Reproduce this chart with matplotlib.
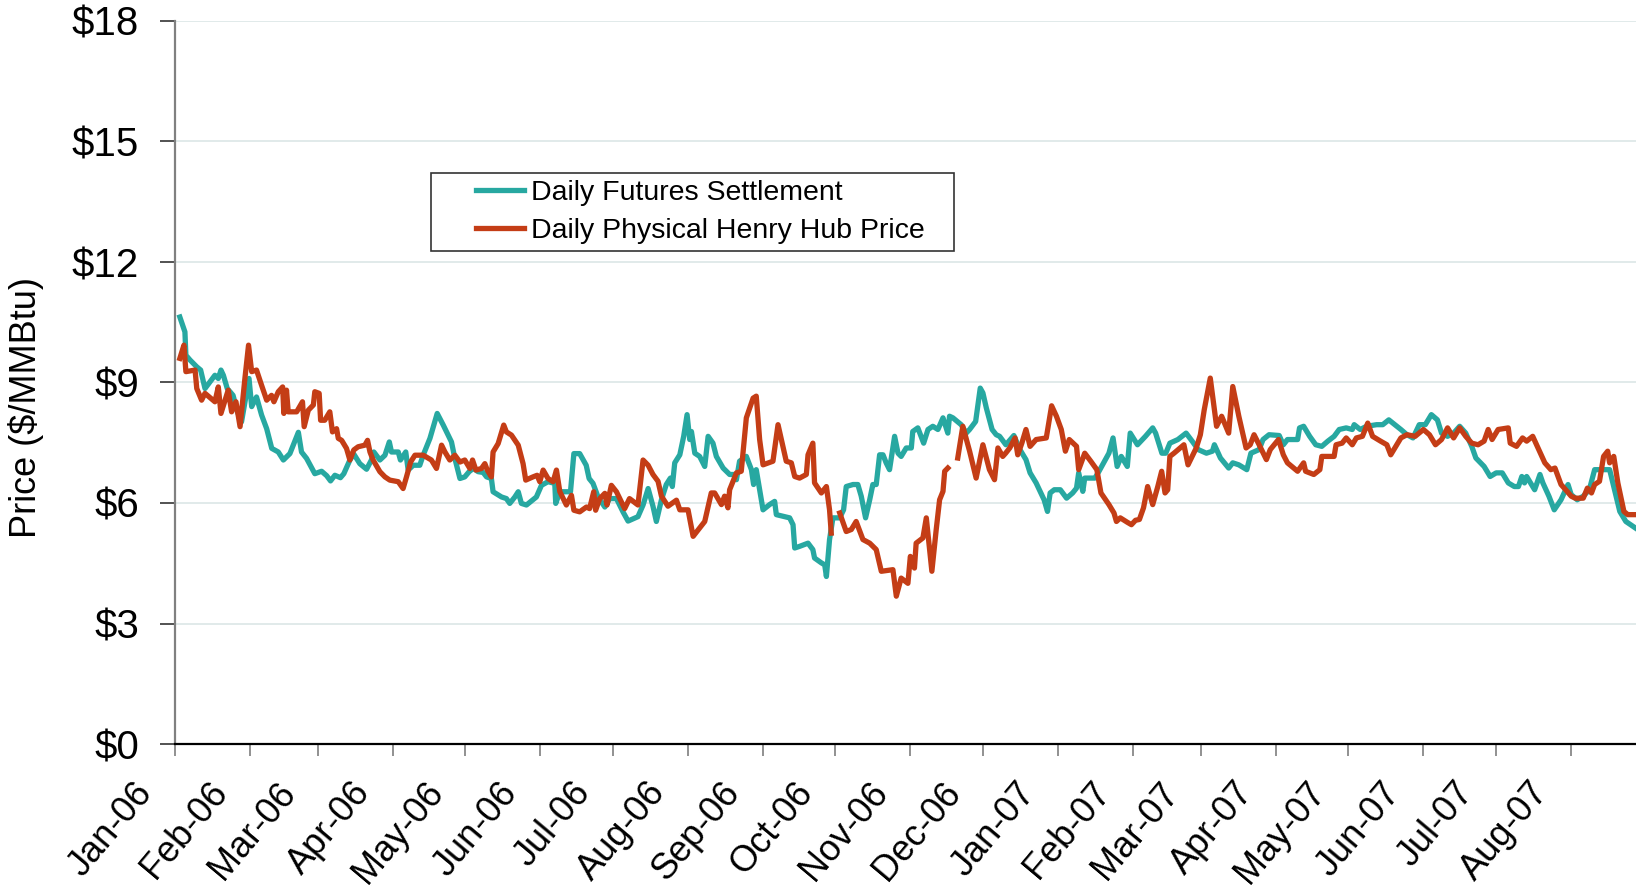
import numpy as np
import pandas as pd
import matplotlib
matplotlib.use("Agg")
import matplotlib.pyplot as plt
from matplotlib.legend_handler import HandlerLine2D
from matplotlib.transforms import ScaledTranslation

plt.rcParams['font.family'] = ['Liberation Sans', 'DejaVu Sans']

# days counted from 2006-01-01, prices in $/MMBtu
futures_days = [
    2, 4.1, 4.5, 6.2, 9, 10.6, 12.4, 16.5, 17.9, 19, 20, 21.6, 24, 25.8, 27.5, 30.6, 31.7, 33.7, 35.8, 37.9,
    40, 42.7, 44.8, 47.5, 51, 52.3, 54.4, 57.8, 60.6, 62.7, 64.3, 66.1, 68.4, 69.8, 72.3, 73.9, 76.4, 79.2,
    81.2, 82.2, 84.7, 86.8, 88.6, 89.5, 92.3, 93.2, 95.4, 96.4, 98.5, 101.2, 102.6, 105.4, 108.4, 110.9,
    114.3, 115.7, 117.8, 119.8, 121.6, 123.3, 125.3, 127.4, 128.8, 130.8, 131.5, 135, 137, 138.4, 140.5,
    141.9, 143.2, 145.3, 149.4, 151.5, 154.2, 157, 157.4, 159.1, 161.8, 163.5, 164.9, 167.3, 170, 171.2,
    172.8, 174.9, 177.7, 179.7, 182.5, 185.2, 187.3, 191.4, 193.5, 195.6,
    197.6, 199, 201.1, 203.1, 204.8, 205.6, 206.6, 208.7, 210.3, 211.7, 212.8, 213.5, 214.9, 216.9, 219,
    220.4, 222.4, 223.8, 226.6, 229.3, 231.4, 232.1, 233.4, 236.2, 238.3, 239.2, 240.3, 241.7, 243.1,
    245.8, 247.9, 248.6, 251.3, 254.1, 255.5, 256.2, 258.2, 261.7, 263.7, 264.4, 267.2, 268.6, 269.3,
    270.6, 272, 274.8, 276.4, 277.5, 280.3, 282.3, 283.7, 285.5, 287.2, 288.5, 289.9, 291.3, 292.7, 294,
    295.4, 297.5, 298.9, 300.2, 302.3, 304.4, 305, 307.1, 309.5, 311.3, 313.3, 315.4, 317.5, 319.5, 320.2,
    321.6, 325, 327.1, 328.5, 331, 332.9, 334, 335.4, 337.8, 339.5, 340.9,
    343.5, 346.8, 349.3, 351.8, 353.5, 356, 359.3, 360.7, 361.8, 363.5, 366, 368.6, 371.1, 372.7, 373.6,
    375.3, 376.1, 380.3, 382, 383.1, 386.1, 387.8, 389.5, 391.2, 393.7, 394.9, 397.9, 401.2, 404.2, 405.4,
    408, 409.6, 411.3, 414.6, 418, 420.5, 423, 426.4, 428.9, 429.7, 432.2, 435.6, 437.3, 439.8, 443.1,
    444.8, 448.2, 449.8, 452.3, 456.5, 458.2, 459.9, 464.1, 464.9, 466.6, 469.1, 471.6, 474.1, 476.6,
    479.2, 481.3, 484.2, 486.7, 487.5, 490, 492.6, 496.8, 499.3, 501.8, 504.3, 506.8, 509.3, 511.8, 514.4,
    516.9, 519.4, 521.9, 523.6, 526.1, 528.6, 531.1, 533.6, 536.1, 537.8, 541.2, 543.7, 546.2, 548.7,
    551.2, 553.7, 555.4, 556.8, 557.9, 558.8, 562.1, 564.3, 565.5, 568, 570.2, 573, 575.9, 577.2, 579.7,
    582.2, 584.7, 586.9, 590.6, 593.1, 594.8, 597.3, 599.8, 603.7]
futures_price = [
    10.63, 10.26, 9.68, 9.56, 9.39, 9.31, 8.85, 9.18, 9.1, 9.31, 9.18, 8.85, 8.68, 8.27, 8.02, 9.1, 8.4, 8.64,
    8.19, 7.85, 7.36, 7.27, 7.07, 7.23, 7.76, 7.27, 7.11, 6.73, 6.79, 6.68, 6.55, 6.69, 6.63, 6.73, 7.07,
    7.22, 6.98, 6.84, 7.07, 7.27, 7.07, 7.19, 7.52, 7.27, 7.27, 7.07, 7.27, 6.82, 6.94, 6.94, 7.19, 7.61,
    8.23, 7.94, 7.52, 7.11, 6.61, 6.65, 6.78, 6.86, 6.78, 6.76, 6.65, 6.61, 6.28, 6.15, 6.11, 5.99, 6.15,
    6.28, 5.99, 5.95, 6.15, 6.44, 6.53, 6.49, 5.99, 6.28, 6.28, 6.28, 7.23, 7.23, 6.94, 6.61, 6.49, 6.15,
    5.9, 6.11, 6.11, 5.78, 5.55, 5.66, 5.95, 6.36,
    5.92, 5.54, 6.08, 6.46, 6.62, 6.41, 7.0, 7.2, 7.66, 8.2, 7.58, 7.78, 7.24, 7.16, 6.91, 7.66, 7.49, 7.16,
    6.87, 6.71, 6.71, 6.58, 7.04, 7.16, 6.83, 6.46, 6.83, 6.33, 5.83, 5.96, 6.04, 5.71, 5.67, 5.63, 5.46,
    4.88, 4.92, 5.0, 4.84, 4.63, 4.51, 4.46, 4.17, 5.09, 5.63, 5.63, 5.83, 6.41, 6.46, 6.46, 6.17, 5.63,
    6.08, 6.46, 6.46, 7.2, 7.2, 7.0, 6.83, 7.66, 7.24, 7.16, 7.37, 7.37, 7.78, 7.87, 7.49, 7.83, 7.91, 7.83,
    8.12, 7.74, 8.16, 8.12, 7.95, 7.74, 7.83, 8.03, 8.86, 8.74, 8.37, 7.83, 7.7, 7.66,
    7.45, 7.68, 7.33, 7.08, 6.75, 6.5, 6.08, 5.79, 6.25, 6.33, 6.33, 6.12, 6.25, 6.37, 6.75, 6.29, 6.62,
    6.62, 6.79, 6.91, 7.24, 7.62, 6.91, 7.16, 6.91, 7.74, 7.45, 7.66, 7.87, 7.74, 7.24, 7.24, 7.49, 7.58,
    7.74, 7.54, 7.33, 7.24, 7.29, 7.45, 7.12, 6.87, 7.0, 6.95, 6.83, 7.24, 7.33, 7.58, 7.7, 7.68, 7.45,
    7.58, 7.58, 7.87, 7.91, 7.66, 7.45, 7.41, 7.54, 7.66, 7.83, 7.87, 7.83, 7.95, 7.83, 7.91, 7.95, 7.95,
    8.07, 7.95, 7.83, 7.7, 7.62, 7.95, 7.95, 8.2, 8.07, 7.74, 7.66, 7.74, 7.91, 7.74, 7.41, 7.12, 6.91,
    6.66, 6.75, 6.75, 6.5, 6.41, 6.41, 6.66, 6.5, 6.66, 6.33, 6.71, 6.5, 6.17, 5.83, 6.08, 6.46, 6.21,
    6.08, 6.17, 6.33, 6.83, 6.83, 6.83, 6.41, 5.79, 5.54, 5.38]

henry_days = [
    2, 3.7, 4.5, 8.3, 9, 11, 12.4, 16.5, 17.9, 19, 20.7, 22, 23.4, 25.2, 26.9, 28.9, 30.4, 31.7, 33.7, 35.8,
    37.9, 39.9, 40.9, 42.7, 44.5, 45, 46.1, 46.8, 50.3, 52.7, 53.4, 55.1, 57.2, 57.8, 59.6, 60.2, 61.9, 64,
    65.1, 66.8, 67.5, 68.9, 70.9, 72.3, 73.9, 75.7, 78.5, 79.6, 80.6, 81.9, 84.7, 86.8, 88.8, 92.3, 94.3,
    95.7, 97.4, 99.2, 102.6, 106, 108.1, 110.2, 111.6, 113.6, 115.7, 117.8, 119.8, 121.9, 123, 124.4, 126.7,
    128.1, 129.1, 130.8, 131.5, 133.6, 135.9, 137, 139.1, 141.9, 143.9, 145, 148, 149.7, 150.8, 152.2,
    154.2, 156.3, 157.7, 159.1, 161.8, 163.9, 164.9, 167.3, 170.1, 171.4, 173.1, 173.9, 175.6, 177.7,
    178.6, 180.4, 182.5, 185.9, 187.9, 191.4, 193.5, 195.6,
    197.6, 199.7, 201.1, 203.8, 207.3, 208.7, 212.1, 214.2, 216.9, 219, 221.7, 223.1, 225.9, 227.2, 228.6,
    229.3, 232.1, 234.1, 236.2, 239, 240.3, 241.7, 243.1, 247.2, 249.3, 250.7, 252.7, 254.8, 256.2, 258.2,
    261, 261.7, 263.7, 264.4, 267.2, 269.3, 270.6, 271.3, 273, 274.8, 277.5, 279.6, 281.6, 284.4, 287.2,
    289.9, 292, 296.8, 298.2, 300.2, 303, 304, 305.7, 306.4, 309.2, 310.6, 312.9, 314.7, 316.1, 317.5,
    318.2, 319.5, 321.5, 323.6, 325.7, 328.5, 331.2, 334, 336.7, 338.8, 340.2,
    342.2, 343.4, 345.1, 347.3, 348.4, 350.1, 351.8, 353.5, 356, 360.2, 362.4, 364.4, 366.4, 368.1, 369.7,
    372.7, 373.6, 376.1, 378.6, 381.1, 382.8, 386.1, 388.2, 389.2, 390.8, 393.7, 395.4, 397.1, 398.7,
    400.4, 402.1, 404.2, 406.3, 407.9, 409.3, 410.4, 411.3, 413, 415.5, 417.1, 418.8, 420.5, 422.2, 423.9,
    425.5, 428, 430.6, 432.7, 435.6, 437.3, 439.8, 442.8, 444.5, 446.1, 448.2, 451.2, 452.8, 456.2, 458.2,
    459.9, 464.1, 466.6, 467.4, 470.8, 473.3, 474.1, 479.2, 480, 482.5, 484.2, 486.7, 488.4, 490.9, 493.1,
    495.1, 498.4, 501, 502.6, 505.1, 506.8, 509.3, 512.7, 516.1, 518.6, 521.1, 523.6, 526.1, 528.6, 531.1,
    533.6, 536.1, 538.7, 541.2, 542.9, 544.5, 547, 551.2, 552, 554.6, 557.1, 558.8, 561.3, 563.8, 566.3,
    568.8, 570.5, 573, 575.5, 577.2, 578.9, 582.2, 583.9, 585.6, 586.9, 588.9, 590.6, 592.3, 593.1, 594.8,
    596.5, 599, 600.6, 603.7]
henry_price = [
    9.6, 9.93, 9.27, 9.31, 8.85, 8.56, 8.73, 8.52, 8.89, 8.23, 8.56, 8.81, 8.27, 8.52, 7.9, 9.1, 9.93, 9.27,
    9.31, 8.93, 8.56, 8.68, 8.52, 8.77, 8.89, 8.23, 8.81, 8.27, 8.27, 8.52, 7.9, 8.31, 8.44, 8.77, 8.73,
    8.06, 8.06, 8.27, 7.77, 7.85, 7.61, 7.56, 7.36, 7.07, 7.32, 7.4, 7.44, 7.56, 7.27, 7.07, 6.78, 6.65,
    6.57, 6.53, 6.36, 6.65, 7.02, 7.19, 7.19, 7.07, 6.86, 7.44, 7.27, 7.07, 7.19, 7.02, 7.07, 6.86, 7.07,
    6.82, 6.86, 6.98, 6.82, 6.65, 7.27, 7.48, 7.94, 7.77, 7.69, 7.44, 6.98, 6.57, 6.65, 6.69, 6.53, 6.82,
    6.61, 6.53, 6.82, 6.28, 5.95, 6.19, 5.82, 5.78, 5.9, 5.86, 6.28, 5.82, 6.11, 6.24, 5.95, 6.44, 6.28,
    5.86, 6.11, 5.95, 7.07, 6.94,
    6.71, 6.54, 6.17, 5.92, 6.07, 5.83, 5.83, 5.17, 5.38, 5.54, 6.25, 6.25, 5.96, 6.17, 5.88, 6.33, 6.75,
    6.79, 8.12, 8.61, 8.66, 7.58, 6.95, 7.04, 7.95, 7.58, 7.04, 7.0, 6.66, 6.62, 6.71, 7.2, 7.49, 6.5, 6.25,
    6.41, 5.83, 5.25, np.nan, 5.75, 5.29, 5.34, 5.54, 5.09, 5.0, 4.84, 4.3, 4.34, 3.68, 4.13, 4.0, 4.67,
    4.38, 5.0, 5.13, 5.63, 4.3, 5.34, 6.08, 6.29, 6.79, 6.87, np.nan, 7.12, 7.91, 7.29, 6.62, 7.45, 6.83,
    6.58, 7.37,
    7.16, 7.24, 7.37, 7.62, 7.2, 7.49, 7.83, 7.41, 7.58, 7.62, 8.42, 8.16, 7.83, 7.29, 7.58, 7.41, 6.83,
    7.24, 7.04, 6.83, 6.25, 5.96, 5.75, 5.54, 5.63, 5.52, 5.46, 5.57, 5.59, 5.88, 6.41, 5.96, 6.41, 6.79,
    6.25, 6.33, 7.16, 7.24, 7.37, 7.45, 6.95, 7.16, 7.37, 7.7, 8.32, 9.11, 7.91, 8.16, 7.74, 8.9, 8.16,
    7.37, 7.45, 7.7, 7.45, 7.08, 7.33, 7.58, 7.2, 7.0, 6.79, 7.0, 6.79, 6.71, 6.83, 7.16, 7.16, 7.45, 7.49,
    7.62, 7.45, 7.62, 7.66, 7.99, 7.66, 7.54, 7.45, 7.2, 7.45, 7.62, 7.7, 7.66, 7.83, 7.7, 7.45, 7.58,
    7.87, 7.62, 7.87, 7.66, 7.49, 7.45, 7.54, 7.83, 7.58, 7.83, 7.87, 7.49, 7.41, 7.62, 7.54, 7.66, 7.33,
    7.0, 6.83, 6.87, 6.46, 6.29, 6.17, 6.12, 6.12, 6.37, 6.25, 6.46, 6.54, 7.16, 7.29, 7.0, 7.16, 6.5,
    5.79, 5.71, 5.71]

series_names = ["Daily Futures Settlement", "Daily Physical Henry Hub Price"]
y_ticks = [0, 3, 6, 9, 12, 15, 18]
start = pd.Timestamp("2006-01-01")
month_ticks = pd.date_range("2006-01-01", "2007-08-01", freq="MS")


class ShortLine(HandlerLine2D):
    # legend line drawn only on the right part of the handle box
    def get_xdata(self, legend, xdescent, ydescent, width, height, fontsize):
        x = np.array([-xdescent + width * 0.44, -xdescent + width])
        return x, x


fig = plt.figure(figsize=(16.36, 8.88), dpi=100)
ax = fig.add_axes([175 / 1636, 1 - 744 / 888, 1461 / 1636, 723 / 888])

fx = start + pd.to_timedelta(futures_days, unit="D")
hx = start + pd.to_timedelta(henry_days, unit="D")
l1, = ax.plot(fx, futures_price, color="#27A8A1", lw=3.8, label=series_names[0])
l2, = ax.plot(hx, henry_price, color="#C43D16", lw=3.8, label=series_names[1])

ax.set_ylim(0, 18)
ax.set_xlim(start, start + pd.Timedelta(days=604))
ax.set_yticks(y_ticks)
ax.set_yticklabels(["$%d" % v for v in y_ticks], fontsize=29)
ax.set_xticks(month_ticks)
ax.set_xticklabels(month_ticks.strftime("%b-%y"), fontsize=26)

ax.yaxis.grid(True, color="#DCE6E6", lw=1.2)
ax.set_axisbelow(True)
for s in ["top", "right"]:
    ax.spines[s].set_visible(False)
ax.spines["left"].set_color("#808080")
ax.spines["left"].set_linewidth(1.6)
ax.spines["bottom"].set_color("black")
ax.spines["bottom"].set_linewidth(1.6)
ax.tick_params(axis="y", length=11, width=1.3, color="#444444", pad=15)
ax.tick_params(axis="x", length=8.6, width=1.3, color="#888888", pad=4)

fig.text(26 / 1636, 1 - 407 / 888, "Price ($/MMBtu)", rotation=90,
         ha="center", va="center", fontsize=26)

leg = ax.legend(handles=[l1, l2], loc="upper left",
                bbox_to_anchor=(431 / 1636, 1 - 244 / 888, 523 / 1636, 71 / 888),
                bbox_transform=fig.transFigure, mode="expand", borderaxespad=0,
                fontsize=20.5, frameon=True, fancybox=False, borderpad=0.25,
                labelspacing=0.4, handlelength=3.0, handletextpad=0.25,
                handler_map={l1: ShortLine(), l2: ShortLine()})
leg.get_frame().set_edgecolor("black")
leg.get_frame().set_linewidth(1.2)

offset = ScaledTranslation(-42 / 100, -14 / 100, fig.dpi_scale_trans)
for lbl in ax.get_xticklabels():
    lbl.set_rotation(50)
    lbl.set_ha("right")
    lbl.set_va("top")
    lbl.set_rotation_mode("anchor")
    lbl.set_transform(lbl.get_transform() + offset)

fig.savefig("out.png", dpi=100)
